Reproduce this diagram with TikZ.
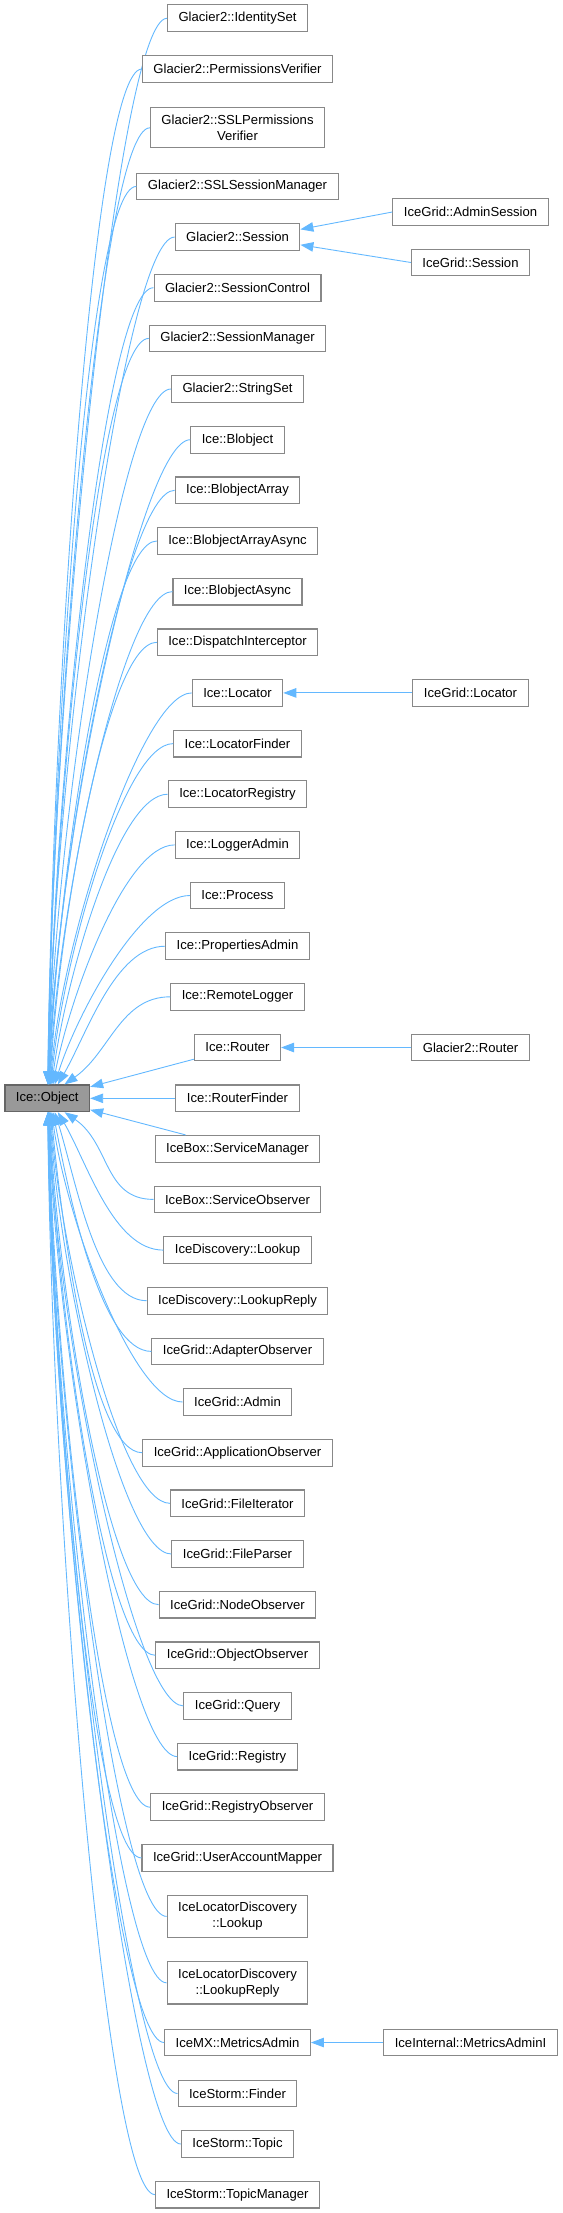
\documentclass[tikz,border=0pt]{standalone}
\usepackage{fontspec}
\setmainfont{Liberation Sans}
\usetikzlibrary{arrows.meta}
\definecolor{edgeblue}{HTML}{63B8FF}
\definecolor{boxline}{HTML}{888888}
\definecolor{rootfill}{HTML}{999999}
\definecolor{rootline}{HTML}{666666}
\begin{document}
\begin{tikzpicture}[x=1pt, y=-1pt, line width=0.9pt,
		cls/.style={draw=boxline, fill=white, line width=1.1pt, align=center,
			inner xsep=11pt, inner ysep=7.2pt, minimum height=26.7pt,
			font=\fontsize{13.1}{15.7}\selectfont},
		rootbox/.style={cls, fill=rootfill, draw=rootline},
		inh/.style={draw=edgeblue, line width=0.9pt,
			{Triangle[length=13pt, width=9.5pt, fill=edgeblue]}-}]
		\useasboundingbox (0,0) rectangle (562,2213);
		\node[rootbox] (obj) at (47.3,1098.3) {Ice::Object};
		% classes above Ice::Object
		\foreach \nm/\y/\txt in {idset/18.3/Glacier2::IdentitySet,
				permver/69/Glacier2::PermissionsVerifier,
				sslpermver/127.8/{Glacier2::SSLPermissions\\Verifier},
				sslsessmgr/186.4/Glacier2::SSLSessionManager,
				session/237.1/Glacier2::Session,
				sessctl/287.7/Glacier2::SessionControl,
				sessmgr/338.4/Glacier2::SessionManager,
				strset/389/Glacier2::StringSet,
				blobj/439.7/Ice::Blobject,
				blobjarr/490.3/Ice::BlobjectArray,
				blobjarrasync/541/Ice::BlobjectArrayAsync,
				blobjasync/591.6/Ice::BlobjectAsync,
				dispatch/642.3/Ice::DispatchInterceptor,
				locator/692.9/Ice::Locator,
				locfinder/743.6/Ice::LocatorFinder,
				locreg/794.2/Ice::LocatorRegistry,
				logadmin/844.9/Ice::LoggerAdmin,
				process/895.5/Ice::Process,
				propadmin/946.2/Ice::PropertiesAdmin,
				remlog/996.8/Ice::RemoteLogger} {
			\node[cls] (\nm) at (237.5,\y) {\txt};
			\pgfmathsetmacro\dist{1085-\y}
			\pgfmathsetmacro\off{1600/\dist-1}
			\draw[inh] ([xshift=\off pt]obj.north) .. controls +(4000/\dist,-0.36*\dist)
				and +(-50,0) .. (\nm.west);
		}
		% classes below Ice::Object
		\foreach \nm/\y/\txt in {svcobs/1199.4/IceBox::ServiceObserver,
				disclookup/1250.1/IceDiscovery::Lookup,
				disclookupreply/1300.7/IceDiscovery::LookupReply,
				adapterobs/1351.4/IceGrid::AdapterObserver,
				gridadmin/1402/IceGrid::Admin,
				appobs/1452.7/IceGrid::ApplicationObserver,
				fileiter/1503.3/IceGrid::FileIterator,
				fileparser/1554/IceGrid::FileParser,
				nodeobs/1604.6/IceGrid::NodeObserver,
				objobs/1655.3/IceGrid::ObjectObserver,
				query/1705.9/IceGrid::Query,
				registry/1756.6/IceGrid::Registry,
				regobs/1807.2/IceGrid::RegistryObserver,
				useracct/1857.9/IceGrid::UserAccountMapper,
				loclookup/1916.4/{IceLocatorDiscovery\\::Lookup},
				loclookupreply/1982.8/{IceLocatorDiscovery\\::LookupReply},
				metrics/2042.5/IceMX::MetricsAdmin,
				finder/2093.5/IceStorm::Finder,
				topic/2144/IceStorm::Topic,
				topicmgr/2194.6/IceStorm::TopicManager} {
			\node[cls] (\nm) at (237.5,\y) {\txt};
			\pgfmathsetmacro\dist{\y-1112}
			\pgfmathsetmacro\off{1600/\dist-1}
			\draw[inh] ([xshift=\off pt]obj.south) .. controls +(4000/\dist,0.36*\dist)
				and +(-50,0) .. (\nm.west);
		}
		\node[cls] (router) at (237.5,1047.5) {Ice::Router};
		\node[cls] (routerfinder) at (237.5,1098.3) {Ice::RouterFinder};
		\node[cls] (svcmgr) at (237.5,1148.8) {IceBox::ServiceManager};
		\draw[inh] (obj.15) -- (router.195);
		\draw[inh] (obj) -- (routerfinder);
		\draw[inh] (obj.-15) -- (svcmgr.165);
		% second level
		\node[cls] (asess) at (470.5,212) {IceGrid::AdminSession};
		\node[cls] (gsess) at (470.5,262.5) {IceGrid::Session};
		\node[cls] (glocator) at (470.5,692.9) {IceGrid::Locator};
		\node[cls] (grouter) at (470.5,1047.5) {Glacier2::Router};
		\node[cls] (metricsi) at (470.5,2042.5) {IceInternal::MetricsAdminI};
		\draw[inh] (session.7) -- (asess.west);
		\draw[inh] (session.-7) -- (gsess.west);
		\draw[inh] (locator) -- (glocator);
		\draw[inh] (router) -- (grouter);
		\draw[inh] (metrics) -- (metricsi);
	\end{tikzpicture}
\end{document}
